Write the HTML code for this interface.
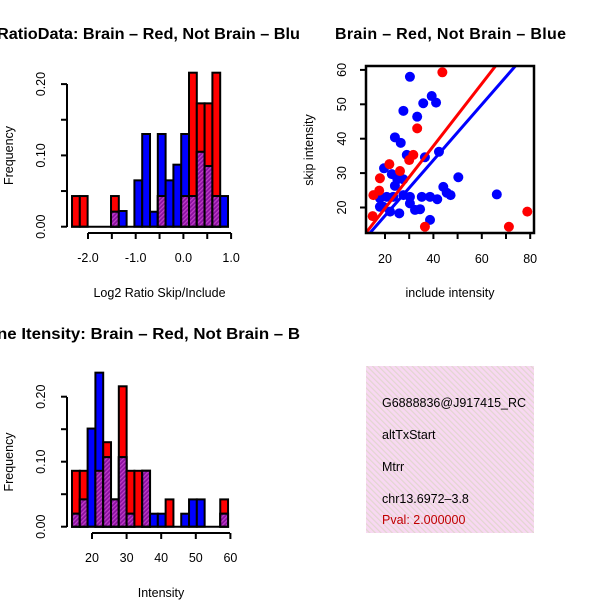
<!DOCTYPE html>
<html><head><meta charset="utf-8"><style>
body{margin:0;background:#fff}svg{display:block}
text{font-family:"Liberation Sans",sans-serif}
</style></head><body>
<svg id="s" width="600" height="600" xmlns="http://www.w3.org/2000/svg">
<defs>
<pattern id="hatch" width="3" height="3" patternUnits="userSpaceOnUse" patternTransform="rotate(45)">
<rect width="3" height="3" fill="#8b10a0"/><rect width="1.2" height="3" fill="#c040c8"/></pattern>
<pattern id="pinkhatch" width="4" height="4" patternUnits="userSpaceOnUse" patternTransform="rotate(-45)">
<rect width="4" height="4" fill="#f8d8f2"/><rect width="1.2" height="4" fill="#e2d6d0"/></pattern>
<clipPath id="scclip"><rect x="366" y="66" width="168" height="167"/></clipPath>
</defs>
<g id="h1"></g>
<g id="h2"></g>
<g id="sc"></g>
<g>
<rect x="366" y="366" width="168" height="167" fill="url(#pinkhatch)"/>
<svg x="366" y="366" width="168" height="167">
<text x="16" y="41" font-size="12.5">G6888836@J917415_RC</text>
<text x="16" y="73" font-size="12.5">altTxStart</text>
<text x="16" y="105" font-size="12.5">Mtrr</text>
<text x="16" y="137" font-size="12.5">chr13.6972–3.8</text>
<text x="16" y="158" font-size="12.5" fill="#c00000">Pval: 2.000000</text>
</svg></g>
<text x="-3" y="39" font-size="15.5" font-weight="bold" textLength="303" lengthAdjust="spacingAndGlyphs">RatioData: Brain – Red, Not Brain – Blu</text>
<text x="335" y="39" font-size="16" font-weight="bold" textLength="231">Brain – Red, Not Brain – Blue</text>
<text x="-3" y="339" font-size="15.5" font-weight="bold" textLength="303" lengthAdjust="spacingAndGlyphs">ne Itensity: Brain – Red, Not Brain – B</text>
</svg>
<script>
const NS="http://www.w3.org/2000/svg";
// ---- histogram 1 data
const h1Red=[0.043,0.043,0,0,0,0.043,0,0,0,0,0,0.043,0,0,0.043,0.216,0.173,0.173,0.216,0];
const h1Blue=[0,0,0,0,0,0.021,0.022,0,0.065,0.13,0.021,0.13,0.065,0.087,0.13,0.043,0.105,0.085,0.043,0.043];
const h1XTicks=["-2.0","-1.0","0.0","1.0"];
const h1YTicks=["0.00","0.10","0.20"];
// ---- histogram 2 data
const h2Red=[0.086,0.086,0,0.086,0.13,0.042,0.216,0.086,0.086,0.086,0,0,0.042,0,0,0,0,0,0,0.042];
const h2Blue=[0.02,0.042,0.151,0.237,0.107,0.042,0.107,0.02,0,0.086,0.02,0.02,0,0,0.02,0.042,0.042,0,0,0.02];
const h2XTicks=["20","30","40","50","60"];
const h2YTicks=["0.00","0.10","0.20"];
// ---- scatter data
const blueX=[30.3,39.3,35.8,41.1,27.6,33.3,24.1,26.5,29.0,36.5,42.3,19.6,22.8,25.1,27.6,24.1,50.3,44.1,45.5,47.1,66.2,17.9,19.3,22.1,25.9,30.3,30.3,32.4,34.5,35.2,38.6,41.6,38.6,20.7,23.4,27.6,17.9];
const blueY=[58.0,52.4,50.3,50.5,48.1,46.4,40.4,38.8,35.3,34.6,36.2,31.4,29.7,28.2,28.2,26.3,28.8,26.0,24.3,23.6,23.8,22.7,20.2,18.8,18.3,23.1,21.2,19.3,19.5,23.1,23.1,22.4,16.4,23.1,23.1,23.6,20.2];
const redX=[43.7,33.3,30.0,31.7,21.8,26.2,17.9,17.6,15.2,14.9,36.5,71.2,78.8];
const redY=[59.3,43.0,33.8,35.3,32.6,30.6,28.5,24.9,23.6,17.5,14.4,14.4,18.8];
const fitSlope=[0.906,0.808];
const fitIntercept=[1.64,1.45];
const scXTicks=[20,30,40,50,60,70,80];
const scXLabels=["20","40","60","80"];
const scYTicks=[20,30,40,50,60];

function mk(tag,attrs,parent){const e=document.createElementNS(NS,tag);for(const k in attrs)e.setAttribute(k,attrs[k]);parent.appendChild(e);return e;}

function hist(g,red,blue,x0,bw,xs,ys,xt,xtv,yt,ytv,xlab,yAxisX,xAxisY,xAxisL,xAxisR,yTop,yBot,xLabY){
  red.forEach((r,i)=>{
    const b=blue[i];const m=Math.min(r,b);const mx=Math.max(r,b);
    if(mx<=0)return;
    const L=xs(x0+i*bw),R=xs(x0+(i+1)*bw);
    if(r>0){const e=mk('rect',{x:L,y:ys(r),width:R-L,height:ys(0)-ys(r),fill:'#ff0000',stroke:'#000','stroke-width':2},g);
      
      }
    if(b>0){const e=mk('rect',{x:L,y:ys(b),width:R-L,height:ys(0)-ys(b),fill:'#0000ff',stroke:'#000','stroke-width':2},g);
      
      
      if(r>b){e.setAttribute('fill','none');}}
    if(m>0){const e=mk('rect',{x:L,y:ys(m),width:R-L,height:ys(0)-ys(m),fill:'url(#hatch)',stroke:'#000','stroke-width':2},g);
      
      }
  });
  mk('line',{x1:xs(x0)-1,y1:ys(0),x2:xs(x0+red.length*bw)+1,y2:ys(0),stroke:'#000','stroke-width':2},g);
  const xa=mk('g',{},g);
  mk('line',{x1:xAxisL,y1:xAxisY,x2:xAxisR,y2:xAxisY,stroke:'#000','stroke-width':2},xa);
  xtv.forEach(v=>mk('line',{x1:xs(v),y1:xAxisY,x2:xs(v),y2:xAxisY+6,stroke:'#000','stroke-width':2},xa));
  xt.forEach(t=>{const e=mk('text',{x:xs(parseFloat(t)),y:xAxisY+29,'font-size':12.5,'text-anchor':'middle'},xa);e.textContent=t;
    });
  const xl=mk('text',{x:(xAxisL+xAxisR)/2,y:xLabY,'font-size':12.5,'text-anchor':'middle'},g);xl.textContent=xlab;
  
  const ya=mk('g',{},g);
  mk('line',{x1:yAxisX,y1:yTop,x2:yAxisX,y2:yBot,stroke:'#000','stroke-width':2},ya);
  ytv.forEach(v=>mk('line',{x1:yAxisX-6,y1:ys(v),x2:yAxisX,y2:ys(v),stroke:'#000','stroke-width':2},ya));
  yt.forEach(t=>{const y=ys(parseFloat(t));const e=mk('text',{x:yAxisX-22,y:y,'font-size':12.5,'text-anchor':'middle',transform:`rotate(-90 ${yAxisX-22} ${y})`},ya);e.textContent=t;
    });
  const yc=(yTop+yBot)/2;
  const yl=mk('text',{x:13,y:yc,'font-size':12.5,'text-anchor':'middle',transform:`rotate(-90 13 ${yc})`},g);yl.textContent='Frequency';
  
}

const xs1=v=>88+(v+2)*47.7, ys1=v=>226.7-v*713;
hist(document.getElementById('h1'),h1Red,h1Blue,-2.335,0.1635,xs1,ys1,h1XTicks,[-2,-1.5,-1,-0.5,0,0.5,1],h1YTicks,[0,0.05,0.1,0.15,0.2],
 'Log2 Ratio Skip/Include',67,233,88,231,84,227,297);
const xs2=v=>92+(v-20)*3.46, ys2=v=>526.7-v*650;
hist(document.getElementById('h2'),h2Red,h2Blue,14.22,2.255,xs2,ys2,h2XTicks,[20,30,40,50,60],h2YTicks,[0,0.05,0.1,0.15,0.2],
 'Intensity',67,533,92,230,397,527,597);

const g=document.getElementById('sc');
const sx=v=>385+(v-20)*2.42, sy=v=>207.5-(v-20)*3.44;
const pts=mk('g',{'clip-path':'url(#scclip)'},g);
blueX.forEach((x,i)=>{const c=mk('circle',{cx:sx(x),cy:sy(blueY[i]),r:5,fill:'#0000ff'},pts);
  
  });
redX.forEach((x,i)=>{const c=mk('circle',{cx:sx(x),cy:sy(redY[i]),r:5,fill:'#ff0000'},pts);
  
  });
['#ff0000','#0000ff'].forEach((col,i)=>{const a=0,b=90;
  const l=mk('line',{x1:sx(a),y1:sy(fitIntercept[i]+fitSlope[i]*a),x2:sx(b),y2:sy(fitIntercept[i]+fitSlope[i]*b),stroke:col,'stroke-width':3},pts);
  
  });
const box=mk('rect',{x:366,y:66,width:168,height:167,fill:'none',stroke:'#000','stroke-width':2.5},g);

scXTicks.forEach(v=>mk('line',{x1:sx(v),y1:233,x2:sx(v),y2:239,stroke:'#000','stroke-width':2},g));
scXLabels.forEach(t=>{const e=mk('text',{x:sx(+t),y:263,'font-size':12.5,'text-anchor':'middle'},g);e.textContent=t;
  });
scYTicks.forEach(v=>{mk('line',{x1:360,y1:sy(v),x2:366,y2:sy(v),stroke:'#000','stroke-width':2},g);
  const e=mk('text',{x:346,y:sy(v),'font-size':12.5,'text-anchor':'middle',transform:`rotate(-90 346 ${sy(v)})`},g);e.textContent=String(v);
  });
const sxl=mk('text',{x:450,y:297,'font-size':12.5,'text-anchor':'middle'},g);sxl.textContent='include intensity';

const syl=mk('text',{x:313,y:150,'font-size':12.5,'text-anchor':'middle',transform:'rotate(-90 313 150)'},g);syl.textContent='skip intensity';

</script>
</body></html>
